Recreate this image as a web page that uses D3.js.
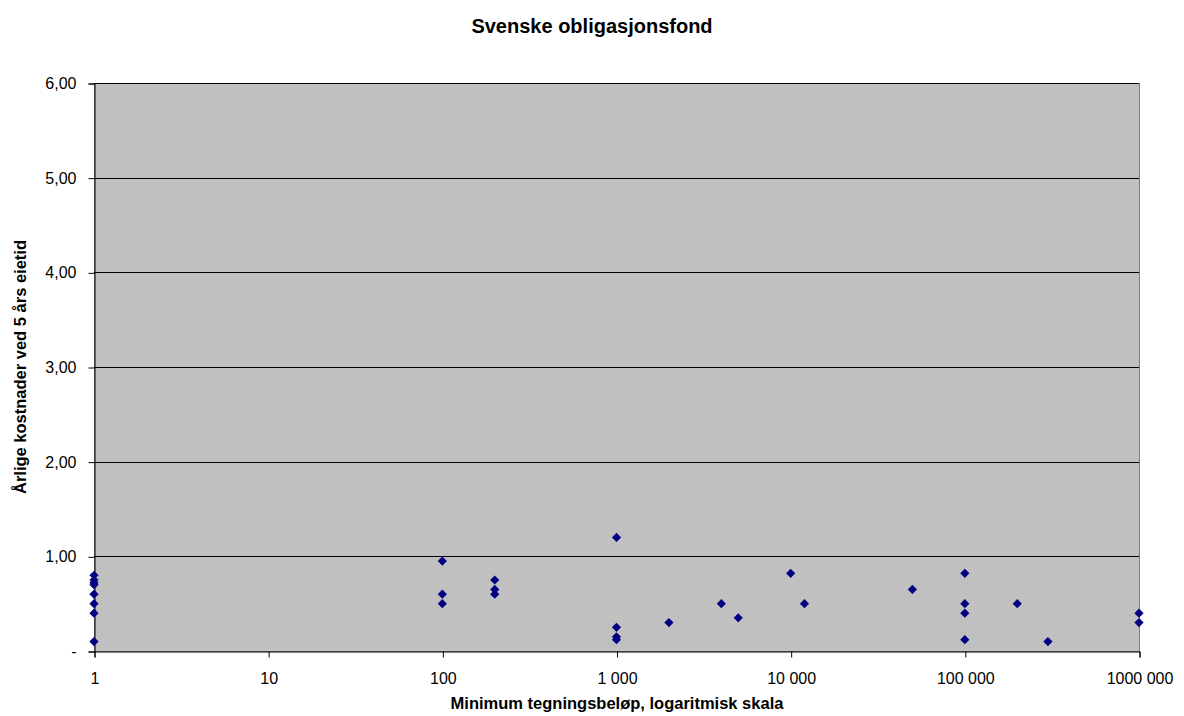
<!DOCTYPE html>
<html><head><meta charset="utf-8">
<script src="https://cdn.jsdelivr.net/npm/d3@7"></script>
<style>body{margin:0;background:#fff}svg{display:block}</style>
</head><body><svg id="c" width="1184" height="716"></svg>
<script>
const title = "Svenske obligasjonsfond";
const xLabel = "Minimum tegningsbeløp, logaritmisk skala";
const yLabel = "Årlige kostnader ved 5 års eietid";
const minAmounts = [1,1,1,1,1,1,1,1, 100,100,100, 200,200,200, 1000,1000,1000,1000, 2000, 4000, 5000, 10000, 12000, 50000, 100000,100000,100000,100000, 200000, 300000, 1000000,1000000];
const costs      = [0.80,0.75,0.72,0.70,0.60,0.50,0.40,0.10, 0.95,0.60,0.50, 0.75,0.65,0.60, 1.20,0.25,0.15,0.12, 0.30, 0.50, 0.35, 0.82, 0.50, 0.65, 0.82,0.50,0.40,0.12, 0.50, 0.10, 0.40,0.30];
const xTicks = [1,10,100,1000,10000,100000,1000000];
const xTickLabels = ["1","10","100","1 000","10 000","100 000","1000 000"];
const yTicks = [0,1,2,3,4,5,6];
const yTickLabels = ["-","1,00","2,00","3,00","4,00","5,00","6,00"];

const svg = d3.select("#c");
const L = 94, R = 1139, T = 83, B = 651;
const x = d3.scaleLog().domain([1,1000000]).range([L,R]);
const y = d3.scaleLinear().domain([0,6]).range([B,T]);
const font = "Arial, 'Liberation Sans', sans-serif";

svg.append("rect").attr("x",L+0.5).attr("y",T+0.5).attr("width",R-L).attr("height",B-T)
  .attr("fill","#C0C0C0").attr("stroke","#808080").attr("stroke-width",1);

svg.append("g").selectAll("line").data(yTicks.filter(d=>d>0)).join("line")
  .attr("x1",L).attr("x2",R).attr("y1",d=>Math.round(y(d))+0.5).attr("y2",d=>Math.round(y(d))+0.5)
  .attr("stroke","#000").attr("stroke-width",1);

const yAxis = d3.axisLeft(y).tickValues(yTicks).tickSize(6).tickPadding(12)
  .tickFormat((d,i)=>yTickLabels[i]);
const gy = svg.append("g").attr("transform",`translate(${L+0.5},0.5)`).call(yAxis);
const xAxis = d3.axisBottom(x).tickValues(xTicks).tickSize(6).tickPadding(15)
  .tickFormat((d,i)=>xTickLabels[i]);
const gx = svg.append("g").attr("transform",`translate(0.5,${B+0.5})`).call(xAxis);
[gy,gx].forEach(g=>{
  g.attr("font-size",null).attr("font-family",null);
  g.select(".domain").attr("stroke","#000");
  g.selectAll(".tick line").attr("stroke","#000");
  g.selectAll("text").style("font-family",font).style("font-size","16px").attr("fill","#000");
});

const r = 4.6;
const diamondPath = `M0,${-r}L${r},0L0,${r}L${-r},0Z`;
svg.append("g").selectAll("path").data(minAmounts.map((m,i)=>[m,costs[i]])).join("path")
  .attr("d",diamondPath).attr("transform",d=>`translate(${x(d[0])},${y(d[1])})`)
  .attr("fill","#000080");

svg.append("text").attr("x",592).attr("y",33).attr("text-anchor","middle")
  .style("font-family",font).style("font-size","20px").attr("font-weight","bold").text(title);
svg.append("text").attr("x",617).attr("y",709).attr("text-anchor","middle")
  .style("font-family",font).style("font-size","16.5px").attr("font-weight","bold").text(xLabel);
svg.append("text").attr("transform","translate(26,367) rotate(-90)").attr("text-anchor","middle")
  .style("font-family",font).style("font-size","16.5px").attr("font-weight","bold").text(yLabel);
</script></body></html>
